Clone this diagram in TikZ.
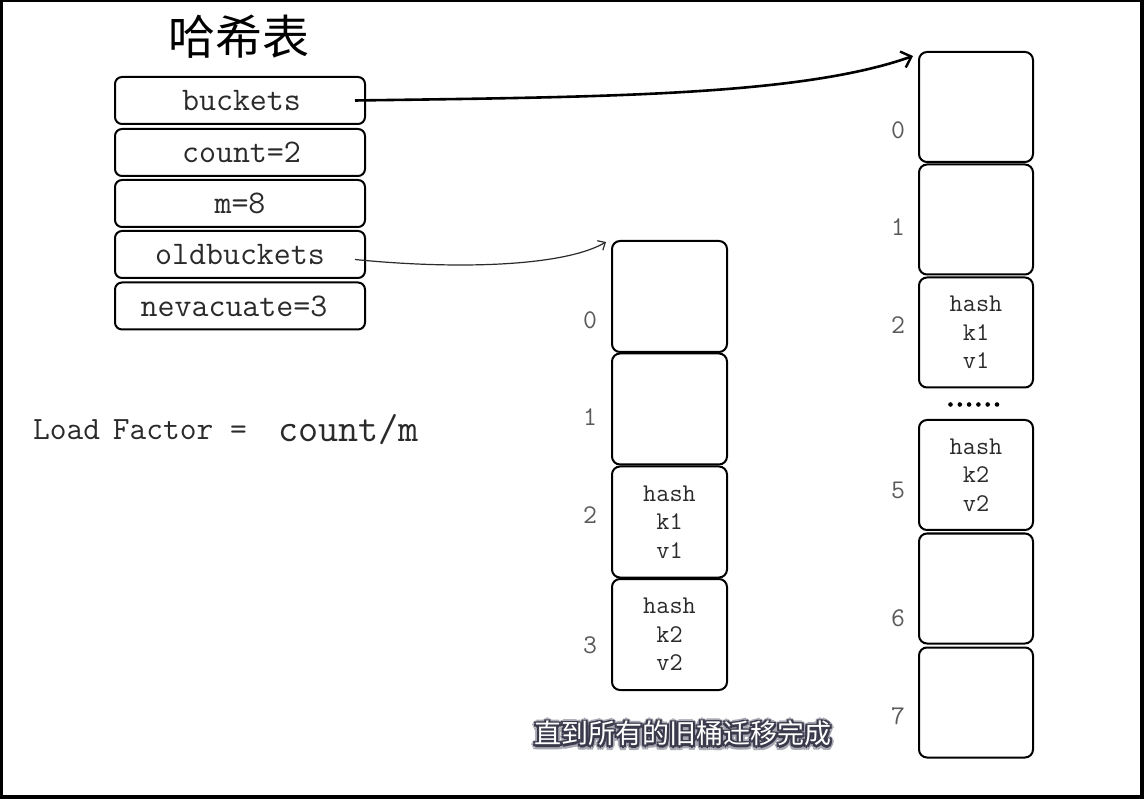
\documentclass[tikz,border=0pt]{standalone}
\usepackage{fontspec}
\setmainfont{Liberation Sans}
\newfontfamily\cjkf{Noto Sans CJK SC}
\usetikzlibrary{arrows.meta,calc}
\definecolor{txt}{HTML}{2A2A2A}
\definecolor{idxgray}{HTML}{5A5A5A}
\definecolor{subdark}{HTML}{3A3A4C}
\definecolor{subsoft}{HTML}{A8A8B2}
\tikzset{
  field/.style={draw=black, line width=2pt, rounded corners=7pt, minimum width=250pt, minimum height=47pt, inner sep=0pt, font=\ttfamily\fontsize{33}{38}\selectfont, text=txt},
  bucket/.style={draw=black, line width=2pt, rounded corners=8pt, minimum width=115pt, minimum height=111pt, inner sep=0pt, align=center, font=\ttfamily\fontsize{25.5}{28.5}\selectfont, text=txt},
  idx/.style={font=\ttfamily\fontsize{27}{30}\selectfont, text=idxgray, inner sep=0pt},
  bigarrow/.style={line width=2.6pt, -{Straight Barb[length=9pt,width=17pt,line width=2.4pt]}},
  smallarrow/.style={line width=1.2pt, draw=txt, -{Straight Barb[length=6pt,width=11pt,line width=1.2pt]}},
  subtext/.style={font=\cjkf\fontsize{27}{30}\selectfont, inner sep=0pt}
}
\begin{document}
\begin{tikzpicture}[x=1pt,y=-1pt]
\useasboundingbox (0,0) rectangle (1144,799);
\fill[white] (0,0) rectangle (1144,799);
% frame
\fill[black] (0,0) rectangle (1144,2.5);
\fill[black] (0,0) rectangle (2.5,799);
\fill[black] (1140,0) rectangle (1144,799);
\fill[black] (0,795) rectangle (1144,799);

% title
\node[font=\cjkf\fontsize{47}{50}\selectfont, inner sep=0pt] (title) at (239,37) {哈希表};

% struct fields
\node[field] (f1) at (240,100.5) {\hspace*{3pt}buckets};
\node[field] (f2) at (240,152.5) {\hspace*{3pt}count=2};
\node[field] (f3) at (240,203.5) {m=8};
\node[field] (f4) at (240,254.5) {oldbuckets};
\node[field] (f5) at (240,306) {\hspace*{-12pt}nevacuate=3};

% load factor
\node[anchor=west, inner sep=0pt, font=\ttfamily\fontsize{32.5}{36}\selectfont, text=txt] (lf) at (33,430) {Load\hspace{-4pt} Factor =};
\node[anchor=west, inner sep=0pt, font=\ttfamily\fontsize{39}{42}\selectfont, text=txt] (lfv) at (278,430) {count/m};

% old buckets
\node[bucket] (o0) at (669.5,296.5) {};
\node[bucket] (o1) at (669.5,409) {};
\node[bucket] (o2) at (669.5,522) {hash\\k1\\v1};
\node[bucket] (o3) at (669.5,634.5) {hash\\k2\\v2};
\node[idx] (oi0) at (590,320) {0};
\node[idx] (oi1) at (590,417) {1};
\node[idx] (oi2) at (590,515) {2};
\node[idx] (oi3) at (590,645) {3};

% new buckets
\node[bucket, minimum width=114pt, minimum height=110pt] (n0) at (976,107) {};
\node[bucket, minimum width=114pt, minimum height=110pt] (n1) at (976,219.5) {};
\node[bucket, minimum width=114pt, minimum height=110pt] (n2) at (976,332.5) {hash\\k1\\v1};
\node[bucket, minimum width=114pt, minimum height=110pt] (n5) at (976,475) {hash\\k2\\v2};
\node[bucket, minimum width=114pt, minimum height=110pt] (n6) at (976,588.5) {};
\node[bucket, minimum width=114pt, minimum height=110pt] (n7) at (976,702.5) {};
\node[idx] (ni0) at (898,130) {0};
\node[idx] (ni1) at (898,227) {1};
\node[idx] (ni2) at (898,325) {2};
\node[idx] (ni5) at (898,490) {5};
\node[idx] (ni6) at (898,618) {6};
\node[idx] (ni7) at (898,716) {7};
% ellipsis dots between bucket 2 and bucket 5
\foreach \i in {0,...,5} {
  \fill[black] (950.5+9.3*\i,404.5) circle (2.3);
}

% arrows
\coordinate (bs) at ([xshift=-11pt]f1.east);
\coordinate (be) at ([xshift=-5pt,yshift=-5pt]n0.north west);
\draw[bigarrow] (bs) .. controls (600,97) and (800,96) .. (be);
\coordinate (os) at ([xshift=-11pt,yshift=-5pt]f4.east);
\coordinate (oe) at ([xshift=-5pt,yshift=-2pt]o0.north west);
\draw[smallarrow] (os) .. controls (460,270) and (565,266) .. (oe);

% subtitle with outline
\foreach \a in {0,30,...,330} {
  \node[subtext, text=subsoft] (ss\a) at ($(683,734.5)+(\a:3.8)$) {直到所有的旧桶迁移完成};
}
\foreach \a in {0,45,...,315} {
  \node[subtext, text=subdark] (sd\a) at ($(683,734)+(\a:2.2)$) {直到所有的旧桶迁移完成};
}
\node[subtext, text=white] (sub) at (683,733) {直到所有的旧桶迁移完成};
\end{tikzpicture}
\end{document}
